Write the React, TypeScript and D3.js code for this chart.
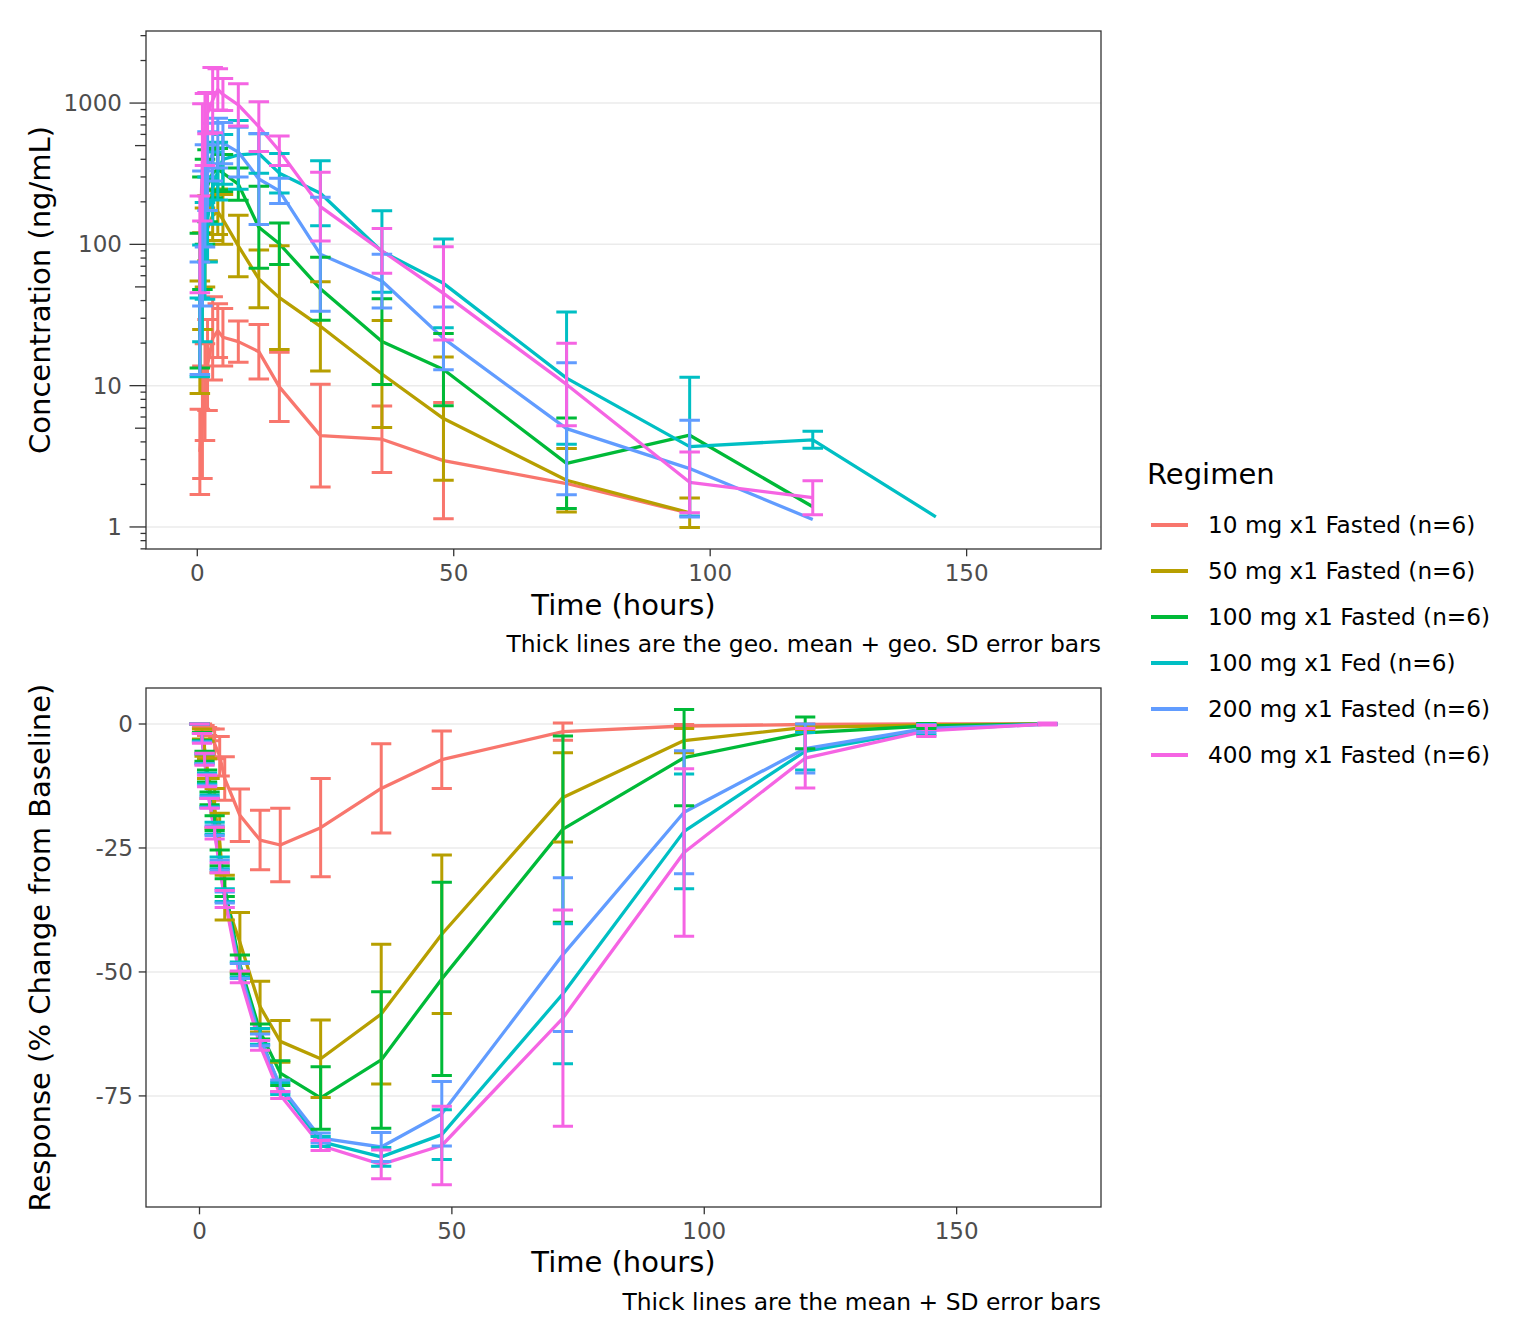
import * as React from "react";
import * as d3 from "d3";

const regimens = [
  "10 mg x1 Fasted (n=6)",
  "50 mg x1 Fasted (n=6)",
  "100 mg x1 Fasted (n=6)",
  "100 mg x1 Fed (n=6)",
  "200 mg x1 Fasted (n=6)",
  "400 mg x1 Fasted (n=6)",
];
const colors = ["#F8766D", "#B79F00", "#00BA38", "#00BFC4", "#619CFF", "#F564E3"];

// PK: geometric mean and geometric SD (multiplicative)
const pkTimes = [0.5, 1, 1.5, 2, 3, 4, 5, 8, 12, 16, 24, 36, 48, 72, 96, 120, 144];
const pk10Mean = [3.4, 5.5, 9, 14, 21.6, 24.5, 22, 20.5, 17.4, 9.8, 4.43, 4.18, 2.95, 2.03, 1.25, null, null];
const pk10Sd = [2.0, 2.5, 2.2, 2.1, 1.97, 1.55, 1.6, 1.4, 1.56, 1.76, 2.31, 1.72, 2.58, null, null, null, null];
const pk50Mean = [22, 55, 95, 130, 160, 170, 150, 97.5, 57, 42, 26.3, 12.1, 5.85, 2.14, 1.26, null, null];
const pk50Sd = [2.5, 2.2, 1.9, 1.7, 1.5, 1.45, 1.5, 1.65, 1.6, 2.33, 2.07, 2.39, 2.73, 1.68, 1.27, null, null];
const pk100Mean = [40, 120, 200, 260, 320, 340, 320, 267, 132, 101, 48.5, 20.5, 13, 2.82, 4.46, 1.39, null];
const pk100Sd = [3.0, 2.5, 2.0, 1.8, 1.5, 1.4, 1.35, 1.3, 1.95, 1.4, 1.67, 2.01, 1.8, 2.09, null, null, null];
const pkFedMean = [22, 45, 90, 150, 250, 330, 400, 430, 440, 319, 230, 89, 53, 11.3, 3.7, 4.14, 1.18];
const pkFedSd = [1.9, 2.2, 2.2, 2.0, 1.8, 1.6, 1.5, 1.75, 1.38, 1.38, 1.7, 1.94, 2.06, 2.94, 3.1, 1.15, null];
const pk200Mean = [30, 110, 220, 330, 450, 520, 520, 450, 290, 239, 85, 55, 21.6, 4.96, 2.59, 1.13, null];
const pk200Sd = [2.5, 3.0, 2.3, 1.9, 1.6, 1.5, 1.4, 1.5, 2.1, 1.23, 2.53, 1.55, 1.67, 2.93, 2.2, null, null];
const pk400Mean = [100, 380, 650, 850, 1050, 1250, 1150, 970, 680, 460, 185, 90, 45, 10.2, 2.07, 1.61, null];
const pk400Sd = [2.2, 2.6, 1.8, 1.4, 1.7, 1.4, 1.3, 1.41, 1.5, 1.27, 1.75, 1.44, 2.14, 1.96, 1.64, 1.32, null];

// PD: arithmetic mean and SD of % change from baseline
const pdTimes = [0, 0.5, 1, 1.5, 2, 3, 4, 5, 8, 12, 16, 24, 36, 48, 72, 96, 120, 144, 168];
const pd10Mean = [0, -0.3, -0.8, -1.5, -2.2, -4, -6.5, -11, -18.4, -23.4, -24.4, -20.9, -13, -7.2, -1.55, -0.4, -0.1, 0, 0];
const pd10Sd = [0, 0.3, 0.5, 0.8, 1.2, 3, 4, 4.4, 5.3, 6, 7.4, 9.9, 9, 5.8, 1.75, 0.3, 0.1, 0, 0];
const pd50Mean = [0, -2, -5, -9, -13, -17, -24, -35, -44, -57, -64, -67.5, -58.5, -42.4, -14.8, -3.35, -0.7, -0.2, 0];
const pd50Sd = [0, 1, 1.5, 2, 2, 4, 6, 4.5, 6, 5.1, 4.2, 7.8, 14.1, 16, 9, 2.45, 0.5, 0.2, 0];
const pd100Mean = [0, -2.5, -6.5, -10.5, -15, -20, -27, -33, -48.5, -62, -70.4, -75.4, -67.75, -51.4, -21.2, -6.8, -1.8, -0.4, 0];
const pd100Sd = [0, 0.8, 1, 1.2, 1.3, 1.5, 1.6, 1.8, 1.9, 1.5, 2.5, 6.3, 13.75, 19.5, 18.8, 9.7, 3.2, 0.5, 0.1];
const pdFedMean = [0, -2.7, -7, -11, -15.5, -21, -28, -34.5, -49.5, -63, -73.5, -84.2, -87.3, -82.8, -54.4, -21.65, -5.5, -1.2, 0];
const pdFedSd = [0, 0.8, 1, 1.1, 1.2, 1.2, 1.2, 1.3, 1.5, 1.6, 1.2, 1, 1.9, 5, 14.1, 11.55, 3.8, 1, 0.1];
const pd200Mean = [0, -2.8, -7, -11.3, -15.8, -21.5, -28.5, -35, -49.8, -63.7, -73, -83.5, -85.3, -78.6, -46.5, -17.8, -4.95, -0.9, 0];
const pd200Sd = [0, 0.9, 1, 1.1, 1.1, 1, 1, 1.1, 1.5, 1.2, 1.2, 1, 2.9, 6.5, 15.5, 12.4, 4.95, 0.8, 0.1];
const pd400Mean = [0, -2.9, -7.1, -11.5, -16, -22, -29, -35.3, -51, -64.8, -74.8, -85, -88.8, -85, -59.3, -25.9, -6.9, -1.4, 0];
const pd400Sd = [0, 1, 1.2, 1.15, 1, 1.2, 1, 1.7, 1.2, 1, 0.7, 1, 2.9, 7.9, 21.8, 16.9, 6, 1.1, 0.2];

const pkMeans = [pk10Mean, pk50Mean, pk100Mean, pkFedMean, pk200Mean, pk400Mean];
const pkSds = [pk10Sd, pk50Sd, pk100Sd, pkFedSd, pk200Sd, pk400Sd];
const pdMeans = [pd10Mean, pd50Mean, pd100Mean, pdFedMean, pd200Mean, pd400Mean];
const pdSds = [pd10Sd, pd50Sd, pd100Sd, pdFedSd, pd200Sd, pd400Sd];

const xTicks = [0, 50, 100, 150];
const pkYTicks = [1, 10, 100, 1000];
const pdYTicks = [0, -25, -50, -75];

const FONT = "DejaVu Sans";
const ERR_HALF = 2; // hours

type Pt = { t: number; m: number; lo: number | null; hi: number | null };

function buildSeries(times: number[], means: (number | null)[], sds: (number | null)[], geo: boolean): Pt[] {
  const out: Pt[] = [];
  times.forEach((t, i) => {
    const m = means[i];
    if (m == null) return;
    const s = sds[i];
    let lo: number | null = null;
    let hi: number | null = null;
    if (s != null) {
      lo = geo ? m / s : m - s;
      hi = geo ? m * s : m + s;
    }
    out.push({ t, m, lo, hi });
  });
  return out;
}

function Panel({ x, y, series, log, yTicks, yTitle, caption, captionY, xTitleY }: any) {
  const [x0, x1] = x.range();
  const [y0, y1] = y.range(); // bottom, top
  const line = d3.line<Pt>().x(d => x(d.t)).y(d => y(d.m));

  // log axis ticks (major / mid / minor)
  const logTicks: { v: number; len: number }[] = [];
  if (log) {
    const [dmin, dmax] = y.domain();
    for (let e = -1; e <= 3; e++) {
      for (let k = 1; k <= 9; k++) {
        const v = k * Math.pow(10, e);
        if (v < dmin || v > dmax) continue;
        logTicks.push({ v, len: k === 1 ? 16.5 : k === 5 ? 11 : 5.5 });
      }
    }
  }

  return (
    <g>
      {yTicks.map((v: number) => (
        <line key={"g" + v} x1={x0} x2={x1} y1={y(v)} y2={y(v)} stroke="#EBEBEB" strokeWidth={1.5} />
      ))}
      <defs>
        <clipPath id={"clip" + y1}>
          <rect x={x0} y={y1} width={x1 - x0} height={y0 - y1} />
        </clipPath>
      </defs>
      <g clipPath={`url(#clip${y1})`}>
        {series.map((s: Pt[], i: number) => (
          <path key={"l" + i} d={line(s) || ""} fill="none" stroke={colors[i]} strokeWidth={3.3} strokeLinejoin="round" />
        ))}
        {series.map((s: Pt[], i: number) => (
          <g key={"e" + i} stroke={colors[i]} strokeWidth={3} fill="none">
            {s.filter(d => d.lo != null).map((d, j) => {
              const xl = x(d.t - ERR_HALF), xr = x(d.t + ERR_HALF), xc = x(d.t);
              const yl = y(d.lo as number), yh = y(d.hi as number);
              return (
                <path key={j} d={`M${xl},${yh}H${xr}M${xc},${yh}V${yl}M${xl},${yl}H${xr}`} />
              );
            })}
          </g>
        ))}
      </g>
      <rect x={x0} y={y1} width={x1 - x0} height={y0 - y1} fill="none" stroke="#333333" strokeWidth={1.3} />
      {/* x axis */}
      {xTicks.map(v => (
        <g key={"x" + v}>
          <line x1={x(v)} x2={x(v)} y1={y0} y2={y0 + 7.3} stroke="#333333" strokeWidth={1.3} />
          <text x={x(v)} y={y0 + 32} textAnchor="middle" fontFamily={FONT} fontSize={23} fill="#4D4D4D">{v}</text>
        </g>
      ))}
      {/* y axis */}
      {log
        ? logTicks.map(t => (
            <line key={"t" + t.v} x1={x0 - t.len} x2={x0} y1={y(t.v)} y2={y(t.v)} stroke="#333333" strokeWidth={1.3} />
          ))
        : yTicks.map((v: number) => (
            <line key={"t" + v} x1={x0 - 7.3} x2={x0} y1={y(v)} y2={y(v)} stroke="#333333" strokeWidth={1.3} />
          ))}
      {yTicks.map((v: number) => (
        <text key={"yl" + v} x={log ? x0 - 24 : x0 - 13} y={y(v) + 8} textAnchor="end" fontFamily={FONT} fontSize={23} fill="#4D4D4D">
          {v}
        </text>
      ))}
      <text x={(x0 + x1) / 2} y={xTitleY} textAnchor="middle" fontFamily={FONT} fontSize={29} fill="#000">Time (hours)</text>
      <text transform={`translate(50,${(y0 + y1) / 2}) rotate(-90)`} textAnchor="middle" fontFamily={FONT} fontSize={29} fill="#000">
        {yTitle}
      </text>
      <text x={x1} y={captionY} textAnchor="end" fontFamily={FONT} fontSize={23.4} fill="#000">{caption}</text>
    </g>
  );
}

export default function App() {
  const xTop = d3.scaleLinear().domain([-10, 176.2]).range([146, 1101]);
  const yTop = d3.scaleLog().domain([Math.pow(10, -0.156), Math.pow(10, 3.51)]).range([549, 31]);
  const xBot = d3.scaleLinear().domain([-10.6, 178.6]).range([146, 1101]);
  const yBot = d3.scaleLinear().domain([-97.4, 7.26]).range([1207, 688]);

  const pkSeries = pkMeans.map((m, i) => buildSeries(pkTimes, m, pkSds[i], true));
  const pdSeries = pdMeans.map((m, i) => buildSeries(pdTimes, m, pdSds[i], false));

  return (
    <svg width={1536} height={1344} style={{ position: "absolute", left: 0, top: 0, background: "#fff" }}>
      <rect width={1536} height={1344} fill="#fff" />
      <Panel
        x={xTop}
        y={yTop}
        series={pkSeries}
        log={true}
        yTicks={pkYTicks}
        yTitle="Concentration (ng/mL)"
        caption="Thick lines are the geo. mean + geo. SD error bars"
        captionY={652}
        xTitleY={615}
      />
      <Panel
        x={xBot}
        y={yBot}
        series={pdSeries}
        log={false}
        yTicks={pdYTicks}
        yTitle="Response (% Change from Baseline)"
        caption="Thick lines are the mean + SD error bars"
        captionY={1310}
        xTitleY={1272}
      />
      {/* legend */}
      <text x={1147} y={484} fontFamily={FONT} fontSize={29} fill="#000">Regimen</text>
      {regimens.map((r, i) => (
        <g key={r} transform={`translate(0,${525 + i * 46})`}>
          <line x1={1151} x2={1188} y1={0} y2={0} stroke={colors[i]} strokeWidth={3.8} />
          <text x={1208} y={8} fontFamily={FONT} fontSize={23.2} fill="#000">{r}</text>
        </g>
      ))}
    </svg>
  );
}
